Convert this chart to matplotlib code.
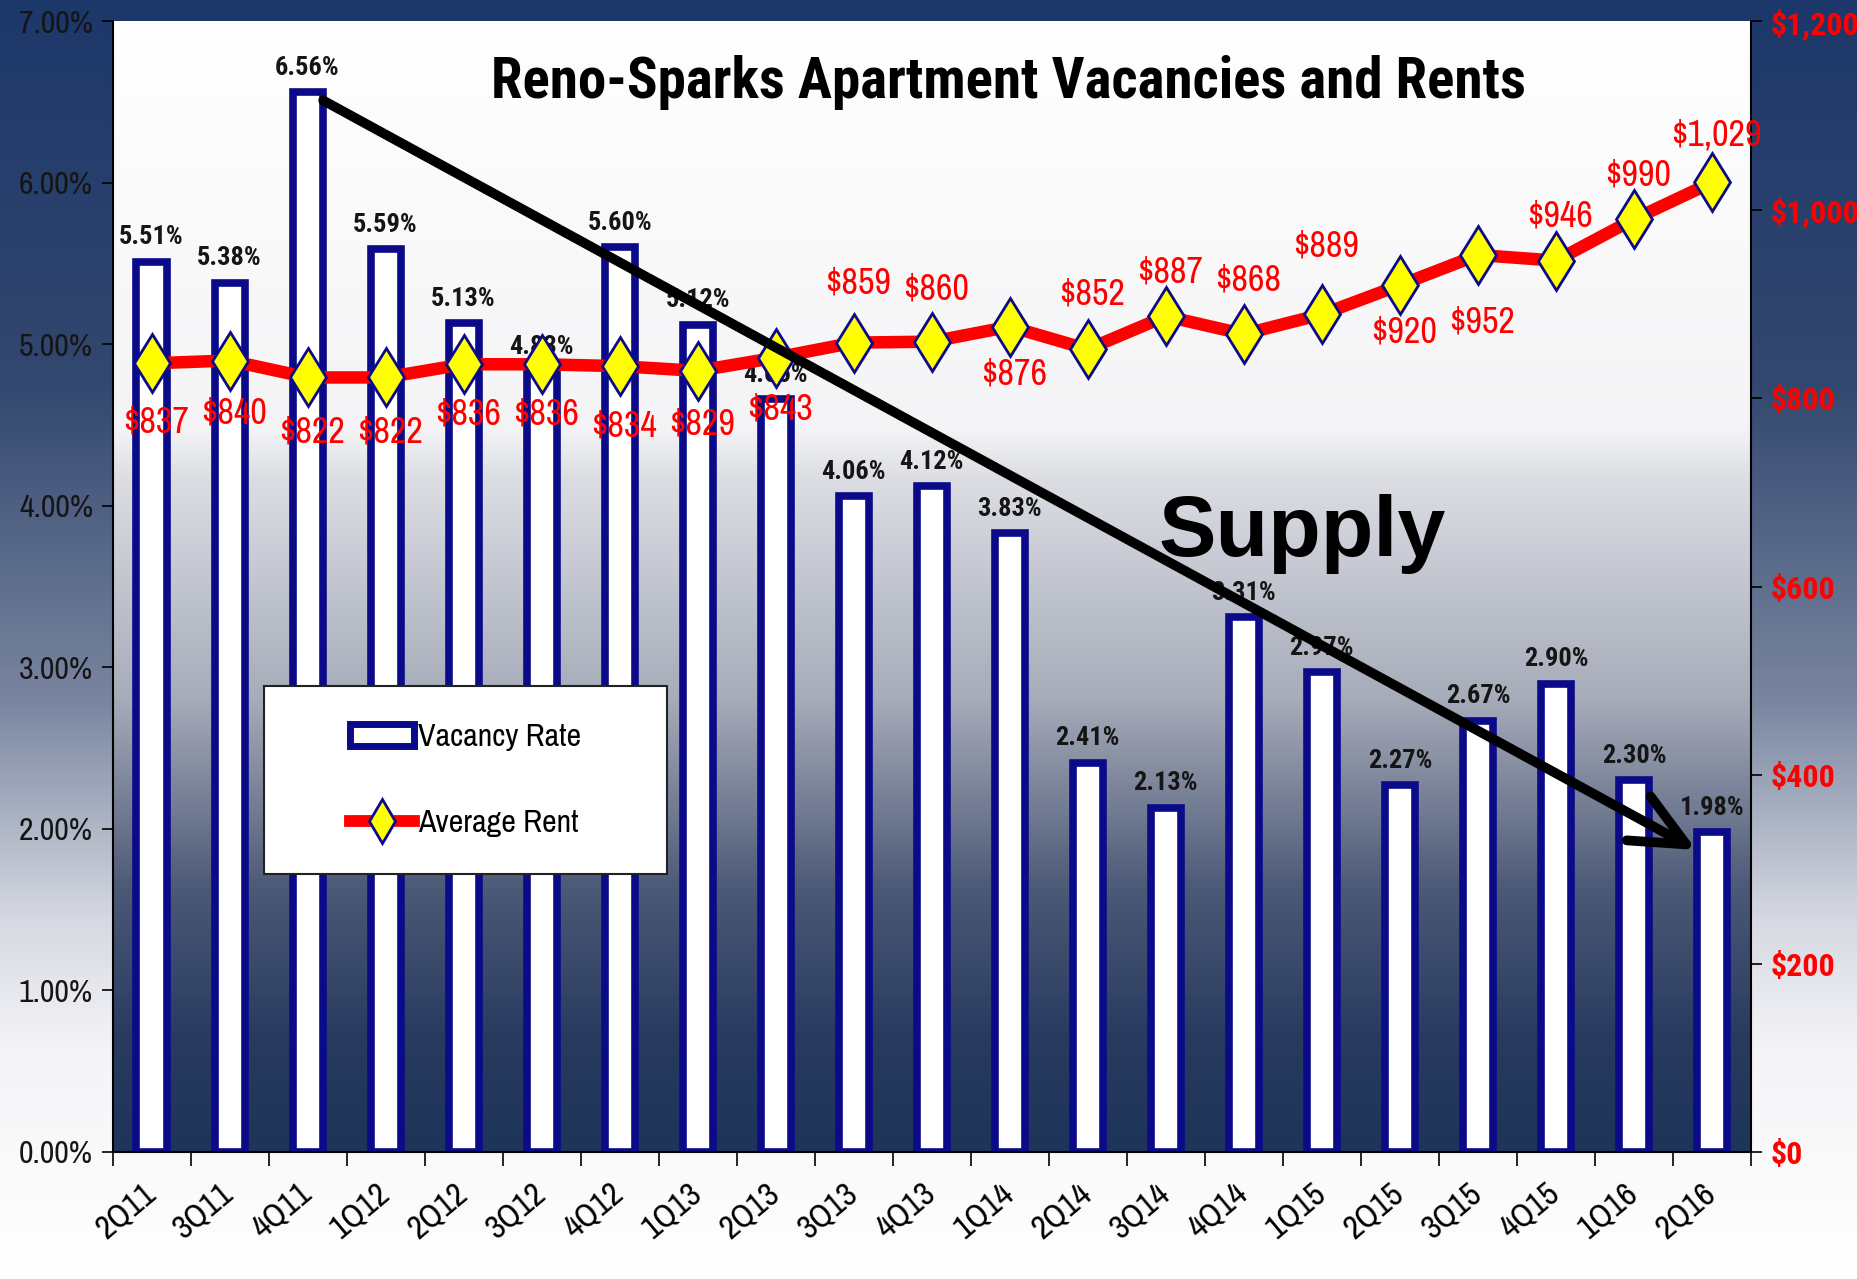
import matplotlib
matplotlib.use('Agg')
import matplotlib.pyplot as plt
import numpy as np
from matplotlib import font_manager
from matplotlib.colors import LinearSegmentedColormap
from matplotlib.patches import Rectangle, Patch
from matplotlib.lines import Line2D

# narrow fonts: one for plain text, one that has a real bold face
faces = font_manager.fontManager.ttflist
regular_names = {f.name for f in faces}
bold_names = {f.name for f in faces if f.weight in (700, 'bold')}
narrow_list = ['Liberation Sans Narrow', 'Archivo Narrow', 'Roboto Condensed', 'Open Sans Condensed']
NARROW = next((n for n in narrow_list if n in regular_names), 'DejaVu Sans')
NARROW_BOLD = next((n for n in narrow_list if n in bold_names), 'DejaVu Sans')
plt.rcParams['font.family'] = [NARROW, 'DejaVu Sans']
BOLD_FAMILY = [NARROW_BOLD, 'DejaVu Sans']

# data
quarters = ['2Q11', '3Q11', '4Q11', '1Q12', '2Q12', '3Q12', '4Q12', '1Q13', '2Q13', '3Q13', '4Q13',
            '1Q14', '2Q14', '3Q14', '4Q14', '1Q15', '2Q15', '3Q15', '4Q15', '1Q16', '2Q16']
vacancy = [5.51, 5.38, 6.56, 5.59, 5.13, 4.83, 5.60, 5.12, 4.66, 4.06, 4.12,
           3.83, 2.41, 2.13, 3.31, 2.97, 2.27, 2.67, 2.90, 2.30, 1.98]
rent = [837, 840, 822, 822, 836, 836, 834, 829, 843, 859, 860,
        876, 852, 887, 868, 889, 920, 952, 946, 990, 1029]
rent_ticks = [0, 200, 400, 600, 800, 1000, 1200]

# label offsets (points) for the rent labels, + above / - below
rent_offsets = [-42, -38, -39, -39, -36, -36, -43, -38, -37, 43, 38,
                -34, 40, 32, 39, 49, -34, -48, 32, 32, 34]

NAVY = '#0b0b8a'

fig = plt.figure(figsize=(18.58, 12.79), dpi=100)

# background gradients
grad = np.linspace(0, 1, 256).reshape(-1, 1)
fig_cmap = LinearSegmentedColormap.from_list('figbg', [
    (0.0, '#1c376a'), (0.3, '#33486f'), (0.55, '#7a86a0'),
    (0.72, '#d6d9e1'), (0.82, '#f4f4f7'), (1.0, '#ffffff')])
ax_cmap = LinearSegmentedColormap.from_list('axbg', [
    (0.0, '#ffffff'), (0.36, '#f4f4f6'), (0.40, '#dddfe4'), (0.6, '#a6abb9'),
    (0.77, '#4b5876'), (0.9, '#283b5f'), (1.0, '#1e3459')])

bg = fig.add_axes([0, 0, 1, 1], zorder=-10)
bg.imshow(grad, aspect='auto', cmap=fig_cmap, extent=[0, 1, 0, 1], origin='upper')
bg.axis('off')

ax = fig.add_axes([0.06055, 0.0993, 0.88186, 0.88405])
x = np.arange(len(quarters))
ax.imshow(grad, aspect='auto', cmap=ax_cmap, extent=[-0.5, 20.5, 0, 7], origin='upper', zorder=0)

ax.bar(x, vacancy, width=0.385, color='white', edgecolor=NAVY, linewidth=5.5, zorder=2)
for xi, v in zip(x, vacancy):
    ax.annotate(f'{v:.2f}%', xy=(xi, v), xytext=(0, 9), textcoords='offset points',
                ha='center', va='bottom', fontsize=19, fontweight='bold', family=BOLD_FAMILY,
                color='#151515', zorder=3)

ax.set_xlim(-0.5, 20.5)
ax.set_ylim(0, 7)
ax.set_yticks(np.arange(0, 8))
ax.set_yticklabels([f'{v:.2f}%' for v in range(8)])
ax.tick_params(axis='y', direction='out', length=8, width=1.2, labelsize=23, pad=6, labelcolor='#151515')
ax.set_xticks(x)
ax.set_xticklabels(quarters, rotation=40, ha='right', va='center', rotation_mode='anchor', fontsize=24)
ax.set_xticks(np.arange(-0.5, 21, 1), minor=True)
ax.tick_params(axis='x', which='major', length=0, pad=27)
ax.tick_params(axis='x', which='minor', direction='out', length=10, width=1.2)
for s in ['top', 'right']:
    ax.spines[s].set_visible(False)
ax.spines['left'].set_linewidth(1.5)
ax.spines['bottom'].set_linewidth(1.5)

# rent line on the right axis
ax2 = ax.twinx()
ax2.plot(x, rent, color='red', lw=9, marker='d', ms=30, mfc='yellow', mec=NAVY, mew=2, zorder=3)
for xi, r, off in zip(x, rent, rent_offsets):
    ax2.annotate(f'${r:,}', xy=(xi, r), xytext=(3, off), textcoords='offset points',
                 ha='center', va='center', fontsize=26, color='red', zorder=4)
ax2.set_ylim(0, 1200)
ax2.set_yticks(rent_ticks)
ax2.set_yticklabels([f'${t:,}' for t in rent_ticks])
ax2.tick_params(axis='y', direction='out', length=8, width=1.2, labelsize=23, pad=6, labelcolor='red')
for lbl in ax2.get_yticklabels():
    lbl.set_fontweight('bold')
    lbl.set_family(BOLD_FAMILY)
ax2.spines['top'].set_visible(False)
ax2.spines['left'].set_visible(False)
ax2.spines['bottom'].set_visible(False)
ax2.spines['right'].set_linewidth(1.5)

# title and the supply arrow
ax2.text(0.547, 0.9455, 'Reno-Sparks Apartment Vacancies and Rents', transform=ax2.transAxes,
         ha='center', va='center', fontsize=41, fontweight='bold', family=BOLD_FAMILY, zorder=6)
ax2.text(0.726, 0.547, 'Supply', transform=ax2.transAxes, ha='center', va='center',
         fontsize=62, fontweight='bold', family=['Liberation Sans', 'DejaVu Sans'], zorder=6)
ax2.annotate('', xy=(x[-1] - 0.2, vacancy[-1] - 0.11), xytext=(x[2] + 0.2, vacancy[2] - 0.05),
             xycoords=ax.transData, textcoords=ax.transData,
             arrowprops=dict(arrowstyle='->,head_length=1.3,head_width=0.6', lw=7, color='black',
                             mutation_scale=30, shrinkA=0, shrinkB=0), zorder=7)

# legend
box = Rectangle((0.0926, 0.246), 0.2458, 0.1657, transform=ax2.transAxes,
                facecolor='white', edgecolor='#222222', lw=1.5, zorder=8)
ax2.add_patch(box)
handles = [Patch(facecolor='white', edgecolor=NAVY, linewidth=5),
           Line2D([], [], color='red', lw=8.5, marker='d', ms=22, mfc='yellow', mec=NAVY, mew=2)]
leg = ax2.legend(handles, ['Vacancy Rate', 'Average Rent'], loc='center', bbox_to_anchor=(0.2155, 0.329),
                 bbox_transform=ax2.transAxes, frameon=False, fontsize=23, labelspacing=1.8,
                 handlelength=2.0, handletextpad=0.1)
leg.set_zorder(9)

fig.savefig('out.png', dpi=100)
